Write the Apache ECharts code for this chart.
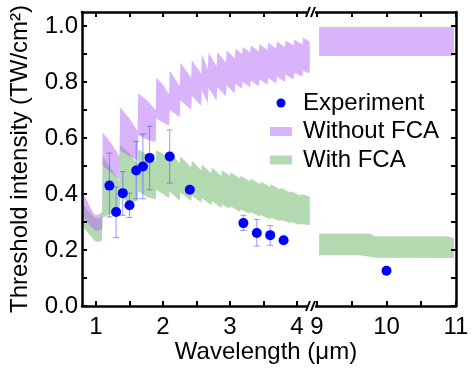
<!DOCTYPE html>
<html><head><meta charset="utf-8">
<script src="https://cdn.jsdelivr.net/npm/echarts@6/dist/echarts.min.js"></script>
<style>html,body{margin:0;padding:0;background:#fff}#c{width:475px;height:368px}</style>
</head><body><div id="c"></div><script>
// ---------- data ----------
const xTicksLeft = [1, 2, 3, 4];
const xTicksRight = [9, 10, 11];
const yTicks = [0, 0.2, 0.4, 0.6, 0.8, 1.0];

const expWavelength = [1.2, 1.3, 1.4, 1.5, 1.6, 1.7, 1.8, 2.1, 2.4, 3.2, 3.4, 3.6, 3.8];
const expThreshold  = [0.43, 0.336, 0.403, 0.36, 0.484, 0.498, 0.529, 0.534, 0.415, 0.296, 0.261, 0.253, 0.235];
const expErrLow     = [0.318, 0.244, 0.324, 0.316, 0.383, 0.383, 0.415, 0.439, 0.415, 0.27, 0.214, 0.217, 0.235];
const expErrHigh    = [0.546, 0.425, 0.48, 0.403, 0.588, 0.614, 0.642, 0.629, 0.415, 0.324, 0.309, 0.287, 0.235];
const expWavelengthFar = [10.0];
const expThresholdFar  = [0.126];

const withoutFcaUpper = [[0.795,0.405],[0.85,0.385],[0.92,0.35],[0.98,0.325],[1.03,0.325],[1.09,0.335],
 [1.10,0.62],[1.23,0.58],[1.35,0.535],[1.36,0.71],[1.50,0.67],[1.62,0.625],[1.63,0.76],[1.76,0.735],[1.89,0.70],
 [1.90,0.815],[2.0,0.79],[2.09,0.755],[2.10,0.84],[2.25,0.785],[2.26,0.87],[2.42,0.815],[2.43,0.878],[2.57,0.83],
 [2.58,0.90],[2.67,0.845],[2.68,0.905],[2.80,0.855],[2.81,0.907],[2.94,0.87],[2.95,0.913],[3.07,0.885],
 [3.08,0.92],[3.18,0.90],[3.19,0.925],[3.30,0.905],[3.31,0.93],[3.43,0.91],[3.44,0.935],[3.56,0.915],[3.57,0.94],
 [3.69,0.92],[3.70,0.945],[3.82,0.925],[3.83,0.948],[3.95,0.93],[3.96,0.952],[4.08,0.935],[4.09,0.958],[4.19,0.945]];
const withoutFcaLower = [[0.795,0.325],[0.85,0.305],[0.92,0.285],[0.98,0.27],[1.03,0.268],[1.09,0.275],
 [1.10,0.50],[1.23,0.475],[1.35,0.45],[1.36,0.555],[1.50,0.535],[1.62,0.52],[1.63,0.61],[1.76,0.595],[1.89,0.585],
 [1.90,0.67],[2.0,0.655],[2.09,0.645],[2.10,0.70],[2.25,0.675],[2.26,0.735],[2.42,0.70],[2.43,0.75],[2.57,0.715],
 [2.58,0.77],[2.67,0.725],[2.68,0.778],[2.80,0.735],[2.81,0.782],[2.94,0.748],[2.95,0.788],[3.07,0.76],
 [3.08,0.795],[3.18,0.775],[3.19,0.80],[3.30,0.78],[3.31,0.805],[3.43,0.785],[3.44,0.81],[3.56,0.79],[3.57,0.815],
 [3.69,0.795],[3.70,0.82],[3.82,0.80],[3.83,0.826],[3.95,0.81],[3.96,0.832],[4.08,0.82],[4.09,0.84],[4.19,0.83]];
const withFcaUpper = [[0.795,0.37],[0.85,0.35],[0.92,0.33],[0.98,0.315],[1.03,0.313],[1.09,0.318],
 [1.10,0.535],[1.23,0.49],[1.35,0.445],[1.36,0.575],[1.50,0.545],[1.62,0.505],[1.63,0.56],[1.76,0.54],[1.89,0.515],
 [1.90,0.555],[2.0,0.545],[2.09,0.525],[2.10,0.55],[2.25,0.51],[2.26,0.535],[2.42,0.495],[2.43,0.52],[2.57,0.485],
 [2.58,0.505],[2.72,0.475],[2.73,0.495],[2.87,0.465],[2.88,0.485],[3.0,0.465],[3.01,0.478],[3.15,0.455],[3.16,0.465],
 [3.3,0.445],[3.31,0.455],[3.45,0.435],[3.46,0.445],[3.6,0.425],[3.61,0.435],[3.75,0.415],[3.76,0.422],[3.9,0.405],
 [3.91,0.41],[4.05,0.395],[4.06,0.4],[4.19,0.39]];
const withFcaLower = [[0.795,0.285],[0.85,0.27],[0.92,0.25],[0.98,0.232],[1.03,0.228],[1.09,0.235],
 [1.10,0.315],[1.23,0.33],[1.35,0.325],[1.36,0.39],[1.50,0.37],[1.62,0.375],[1.63,0.41],[1.76,0.39],[1.89,0.38],
 [1.90,0.415],[2.0,0.40],[2.09,0.385],[2.10,0.41],[2.25,0.375],[2.26,0.405],[2.42,0.375],[2.43,0.395],[2.57,0.37],
 [2.58,0.385],[2.72,0.36],[2.73,0.375],[2.87,0.35],[2.88,0.362],[3.0,0.348],[3.01,0.356],[3.15,0.336],[3.16,0.345],
 [3.3,0.33],[3.31,0.335],[3.45,0.32],[3.46,0.325],[3.6,0.31],[3.61,0.315],[3.75,0.303],[3.76,0.307],[3.9,0.296],
 [3.91,0.3],[4.05,0.29],[4.06,0.293],[4.19,0.288]];
const withoutFcaFarUpper = [[9.03,0.996],[10.97,0.996]];
const withoutFcaFarLower = [[9.03,0.893],[10.97,0.893]];
const withFcaFarUpper = [[9.03,0.259],[9.76,0.259],[9.83,0.249],[10.88,0.249],[10.97,0.242]];
const withFcaFarLower = [[9.03,0.181],[9.62,0.181],[9.85,0.172],[10.97,0.171]];

// ---------- chart ----------
const FONT = 'Liberation Sans';
const PURPLE = 'rgba(179,105,245,0.5)';
const GREEN = 'rgba(103,179,97,0.5)';
const X0 = [0.791, 4.194], X1 = [8.957, 11.0], Y = [0, 1.05];
const chart = echarts.init(document.getElementById('c'), null, {renderer: 'canvas'});

function band(name, upper, lower, color, xi, yi, z) {
  return {
    type: 'custom', name: name, xAxisIndex: xi, yAxisIndex: yi, z: z, silent: true,
    itemStyle: {color: color},
    data: [[upper[0][0], upper[0][1]]],
    renderItem: function (params, api) {
      const pts = upper.map(p => api.coord(p)).concat(lower.slice().reverse().map(p => api.coord(p)));
      return {type: 'polygon', shape: {points: pts}, style: {fill: color}};
    }
  };
}
function halfSteps(a, b) { const r = []; for (let v = a; v <= b + 1e-9; v += 0.5) r.push(+v.toFixed(2)); return r; }
const yMinor = []; for (let i = 0; i <= 10; i++) yMinor.push(+(i / 10).toFixed(1));

const axisLine = {show: true, onZero: false, lineStyle: {color: '#000', width: 2.5}};
const tickStyle = {lineStyle: {color: '#000', width: 2}, inside: true, length: 5};
const labelStyle = {fontFamily: FONT, fontSize: 24, color: '#000'};

function xAx(grid, pos, range, ticks, labels) {
  return {
    type: 'value', gridIndex: grid, position: pos, min: range[0], max: range[1], z: 10,
    axisLine: axisLine, splitLine: {show: false},
    axisTick: Object.assign({customValues: ticks}, tickStyle),
    axisLabel: labels ? Object.assign({customValues: labels, margin: 9, formatter: v => String(v)}, labelStyle) : {show: false}
  };
}

const option = {
  animation: false,
  backgroundColor: '#fff',
  grid: [
    {left: 82, top: 12, width: 228, height: 294},
    {left: 314, top: 12, width: 142, height: 294}
  ],
  xAxis: [
    xAx(0, 'bottom', X0, halfSteps(1, 4), xTicksLeft),
    xAx(0, 'top', X0, halfSteps(1, 4), null),
    xAx(1, 'bottom', X1, halfSteps(9, 11), xTicksRight),
    xAx(1, 'top', X1, halfSteps(9, 11), null)
  ],
  yAxis: [
    {type: 'value', gridIndex: 0, position: 'left', min: Y[0], max: Y[1], z: 10,
     axisLine: axisLine, splitLine: {show: false},
     axisTick: Object.assign({customValues: yMinor}, tickStyle),
     axisLabel: Object.assign({customValues: yTicks, margin: 4, formatter: v => v.toFixed(1)}, labelStyle),
     name: 'Threshold intensity (TW/cm²)', nameLocation: 'middle', nameRotate: 90, nameGap: 50,
     nameTextStyle: {fontFamily: FONT, fontSize: 24, color: '#000'}},
    {type: 'value', gridIndex: 1, position: 'right', min: Y[0], max: Y[1], z: 10,
     axisLine: axisLine, splitLine: {show: false},
     axisTick: Object.assign({customValues: yMinor}, tickStyle),
     axisLabel: {show: false}}
  ],
  legend: {
    orient: 'vertical', left: 270, top: 91, padding: 0, itemWidth: 22, itemHeight: 9, itemGap: 4.5,
    textStyle: {fontFamily: FONT, fontSize: 24, color: '#000', padding: [0, 0, 0, 6]},
    data: [
      {name: 'Experiment', icon: 'circle', itemStyle: {color: '#0000ff'}},
      {name: 'Without FCA', icon: 'rect', itemStyle: {color: PURPLE}},
      {name: 'With FCA', icon: 'rect', itemStyle: {color: GREEN}}
    ]
  },
  graphic: [
    {type: 'text', x: 266, y: 352, style: {text: 'Wavelength (μm)', font: '24px "Liberation Sans"', fill: '#000', textAlign: 'center', textVerticalAlign: 'middle'}}
  ],
  series: [
    band('With FCA', withFcaUpper, withFcaLower, GREEN, 0, 0, 2),
    band('Without FCA', withoutFcaUpper, withoutFcaLower, PURPLE, 0, 0, 3),
    band('With FCA', withFcaFarUpper, withFcaFarLower, GREEN, 2, 1, 2),
    band('Without FCA', withoutFcaFarUpper, withoutFcaFarLower, PURPLE, 2, 1, 3),
    {
      type: 'custom', name: 'errorbars', xAxisIndex: 0, yAxisIndex: 0, z: 5, silent: true,
      data: expWavelength.map((x, i) => [x, expErrLow[i], expErrHigh[i]]),
      renderItem: function (params, api) {
        const lo = api.coord([api.value(0), api.value(1)]);
        const hi = api.coord([api.value(0), api.value(2)]);
        if (Math.abs(lo[1] - hi[1]) < 1) return {type: 'group', children: []};
        const w = 3, st = {stroke: 'rgba(80,80,255,0.6)', lineWidth: 1};
        return {type: 'group', children: [
          {type: 'line', shape: {x1: lo[0], y1: lo[1], x2: hi[0], y2: hi[1]}, style: st},
          {type: 'line', shape: {x1: lo[0] - w, y1: lo[1], x2: lo[0] + w, y2: lo[1]}, style: st},
          {type: 'line', shape: {x1: hi[0] - w, y1: hi[1], x2: hi[0] + w, y2: hi[1]}, style: st}
        ]};
      }
    },
    {type: 'scatter', name: 'Experiment', xAxisIndex: 0, yAxisIndex: 0, z: 10, symbolSize: 10,
     itemStyle: {color: '#0000ff', opacity: 1},
     data: expWavelength.map((x, i) => [x, expThreshold[i]])},
    {type: 'scatter', name: 'Experiment', xAxisIndex: 2, yAxisIndex: 1, z: 10, symbolSize: 10,
     itemStyle: {color: '#0000ff', opacity: 1},
     data: expWavelengthFar.map((x, i) => [x, expThresholdFar[i]])},
    {
      type: 'custom', name: 'break', xAxisIndex: 0, yAxisIndex: 0, z: 20, silent: true, clip: false,
      data: [[X0[1], Y[0]], [X0[1], Y[1]]],
      renderItem: function (params, api) {
        const p = api.coord([api.value(0), api.value(1)]);
        const st = {stroke: '#000', lineWidth: 2};
        return {type: 'group', children: [
          {type: 'rect', shape: {x: p[0] - 3, y: p[1] - 2, width: 8, height: 4}, style: {fill: '#fff'}},
          {type: 'line', shape: {x1: p[0] - 4, y1: p[1] + 5, x2: p[0] + 0, y2: p[1] - 5}, style: st},
          {type: 'line', shape: {x1: p[0] + 1, y1: p[1] + 5, x2: p[0] + 5, y2: p[1] - 5}, style: st}
        ]};
      }
    }
  ]
};
chart.setOption(option);
</script></body></html>
